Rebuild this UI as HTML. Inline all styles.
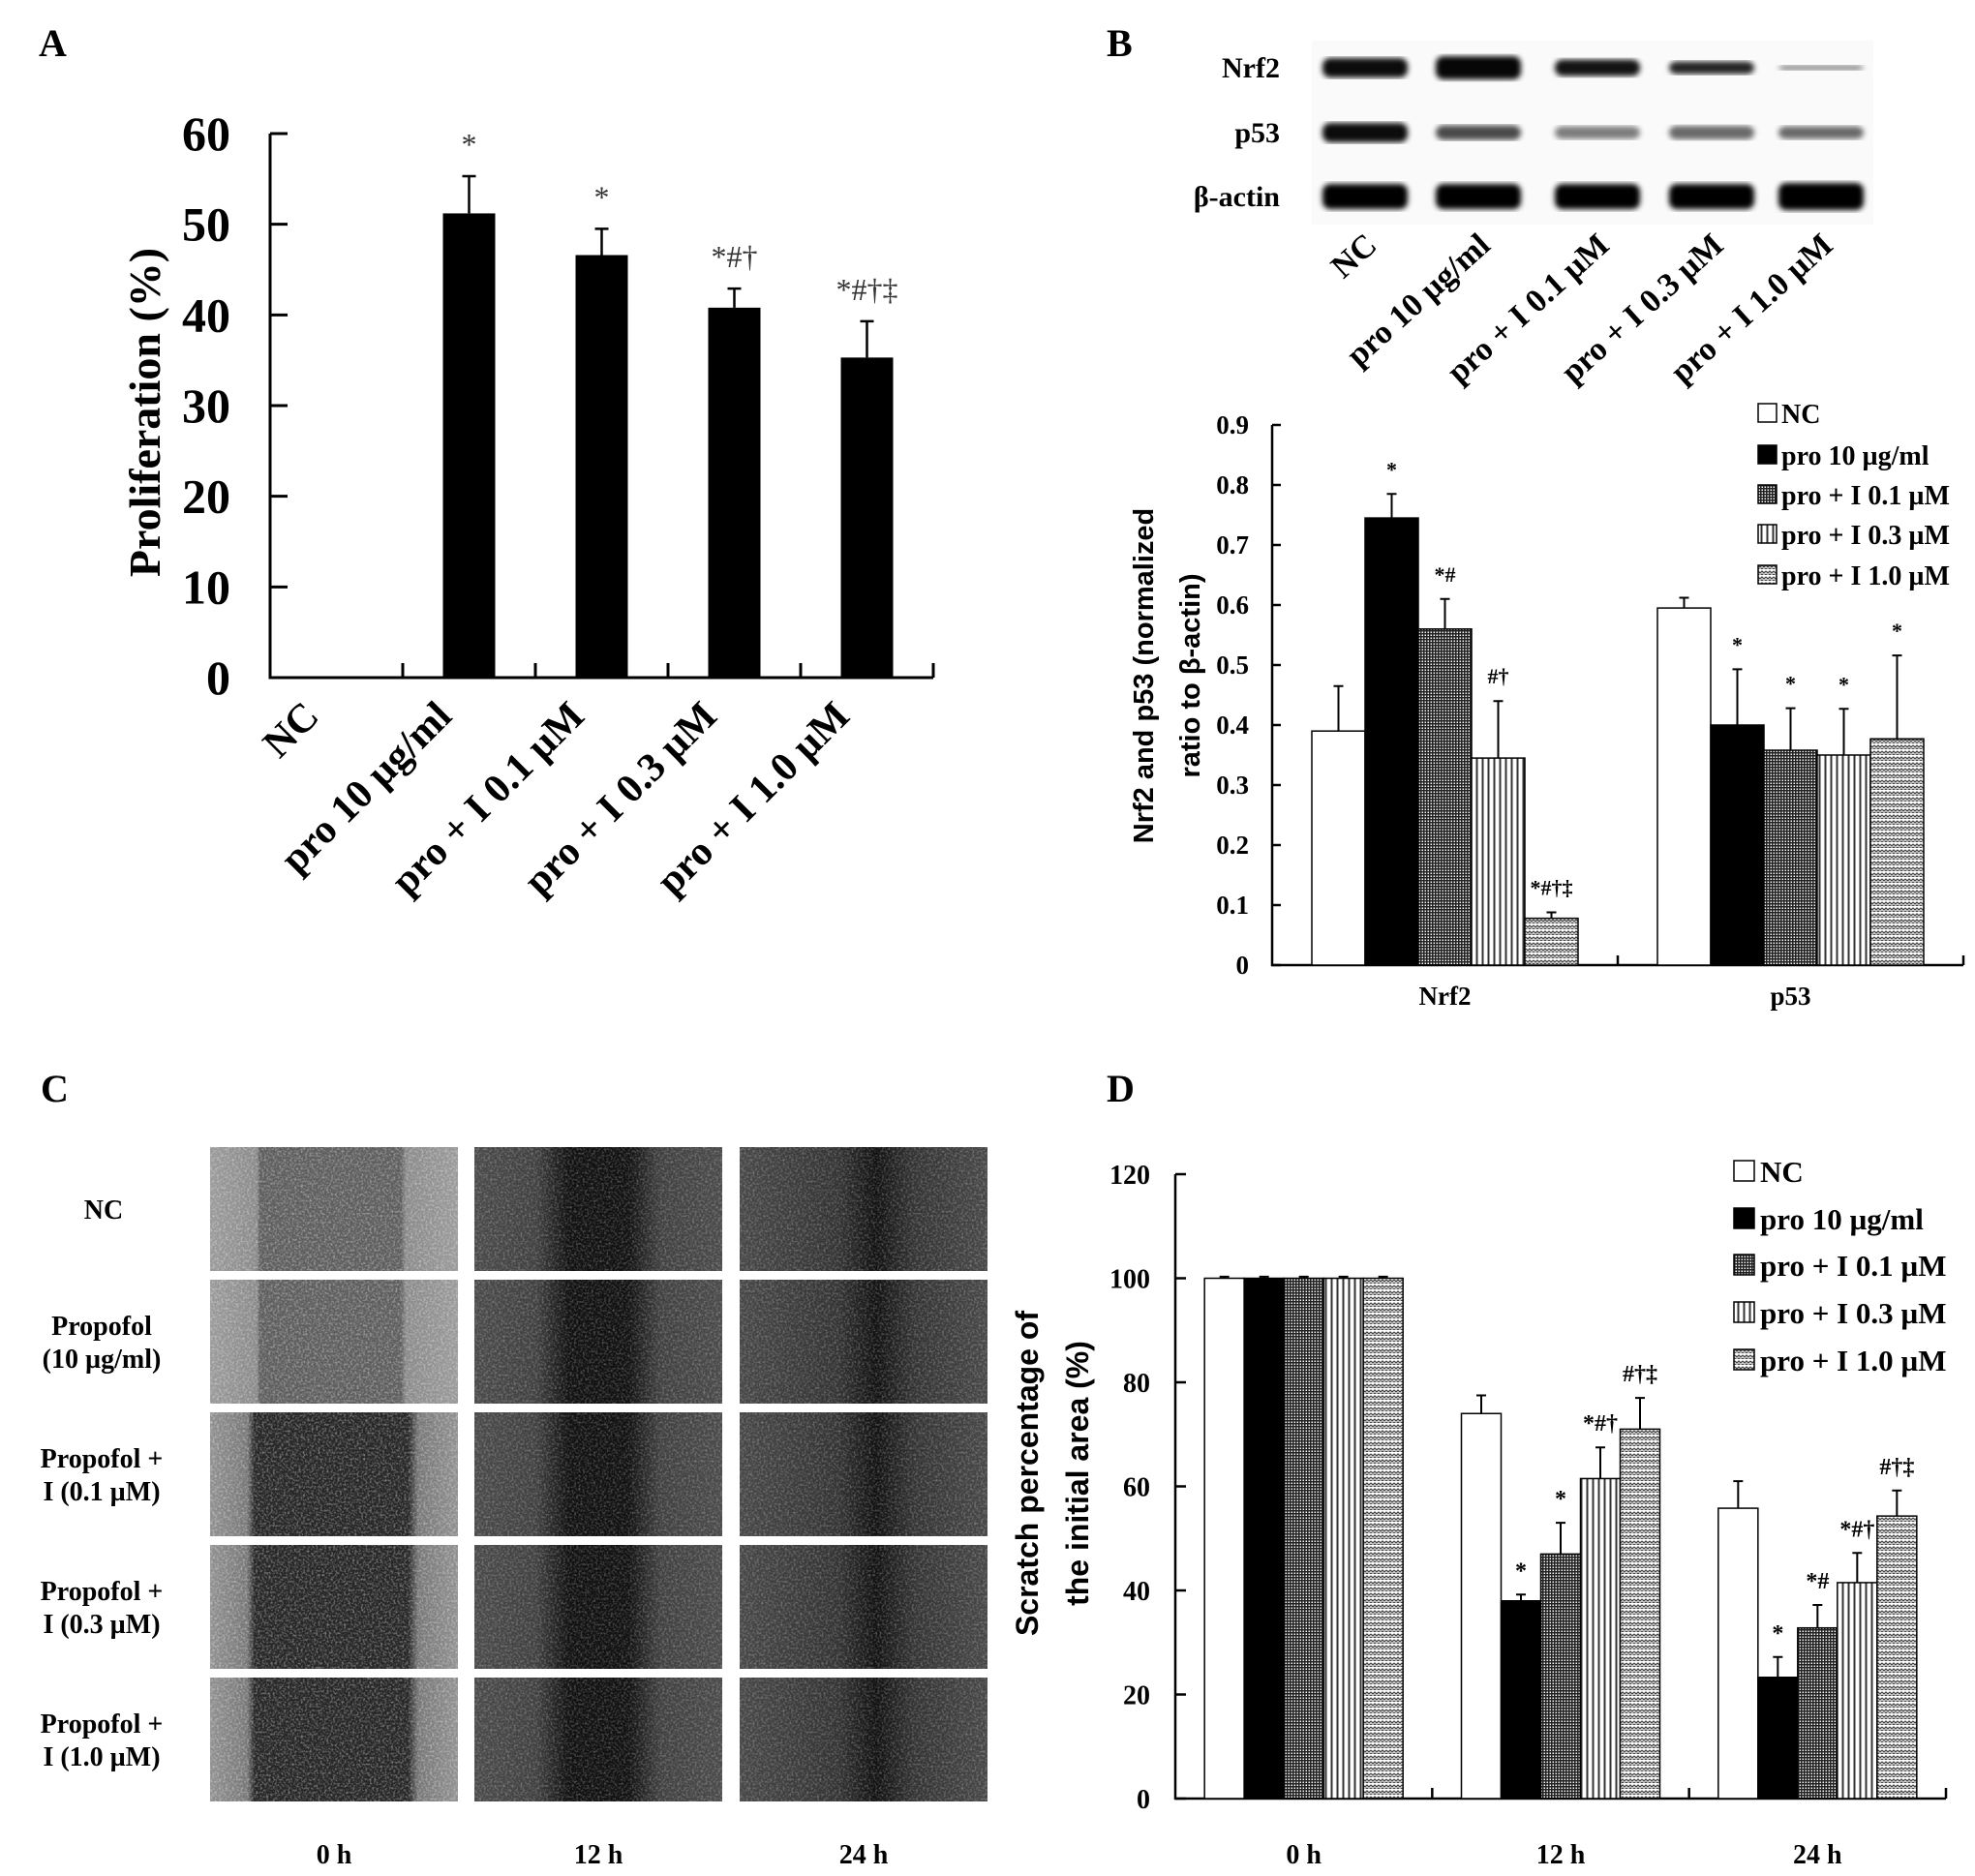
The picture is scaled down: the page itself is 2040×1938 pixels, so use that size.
<!DOCTYPE html>
<html><head><meta charset="utf-8"><style>
html,body{margin:0;padding:0;background:#fff;}
svg{display:block;}
.serif{font-family:"Liberation Serif",serif;font-weight:bold;}
.sans{font-family:"Liberation Sans",sans-serif;font-weight:bold;}
</style></head><body>
<svg id="fig" xmlns="http://www.w3.org/2000/svg" width="2040" height="1938" viewBox="0 0 2040 1938">
<defs>
<pattern id="grid" width="6" height="6" patternUnits="userSpaceOnUse"><rect width="6" height="6" fill="#fff"/><path d="M0 0.75H6M0 3.75H6M0.75 0V6M3.75 0V6" stroke="#222" stroke-width="1.6"/></pattern>
<pattern id="vlines" width="6" height="6" patternUnits="userSpaceOnUse"><rect width="6" height="6" fill="#fff"/><path d="M1.5 0V6" stroke="#333" stroke-width="2"/></pattern>
<pattern id="zigzag" width="8" height="6" patternUnits="userSpaceOnUse"><rect width="8" height="6" fill="#fff"/><path d="M0 2L2 4L4 2L6 4L8 2M0 5L2 7L4 5L6 7L8 5" stroke="#444" stroke-width="1.3" fill="none"/></pattern>
<filter id="noise" x="0" y="0" width="100%" height="100%"><feTurbulence type="fractalNoise" baseFrequency="0.45" numOctaves="2" seed="3"/><feColorMatrix type="matrix" values="0 0 0 0 1  0 0 0 0 1  0 0 0 0 1  0 0 0 2 -0.85"/></filter>
<filter id="blur"><feGaussianBlur stdDeviation="3"/></filter>
<linearGradient id="g0nc" x1="0" x2="1"><stop offset="0" stop-color="#9a9a9a"/><stop offset="0.19" stop-color="#8a8a8a"/><stop offset="0.2" stop-color="#5e5e5e"/><stop offset="0.77" stop-color="#5e5e5e"/><stop offset="0.79" stop-color="#8a8a8a"/><stop offset="1" stop-color="#9a9a9a"/></linearGradient>
<linearGradient id="g0dark" x1="0" x2="1"><stop offset="0" stop-color="#909090"/><stop offset="0.15" stop-color="#777"/><stop offset="0.18" stop-color="#262626"/><stop offset="0.8" stop-color="#262626"/><stop offset="0.84" stop-color="#777"/><stop offset="1" stop-color="#909090"/></linearGradient>
<linearGradient id="g12" x1="0" x2="1"><stop offset="0" stop-color="#4a4a4a"/><stop offset="0.25" stop-color="#404040"/><stop offset="0.38" stop-color="#111"/><stop offset="0.62" stop-color="#111"/><stop offset="0.75" stop-color="#404040"/><stop offset="1" stop-color="#4a4a4a"/></linearGradient>
<linearGradient id="g24" x1="0" x2="1"><stop offset="0" stop-color="#474747"/><stop offset="0.4" stop-color="#333"/><stop offset="0.55" stop-color="#111"/><stop offset="0.7" stop-color="#333"/><stop offset="1" stop-color="#474747"/></linearGradient>
</defs>
</svg>
<script>
// ---------- Panel A data ----------
const aCategories = ['NC','pro 10 µg/ml','pro + I 0.1 µM','pro + I 0.3 µM','pro + I 1.0 µM'];
const aValues = [0, 51.2, 46.6, 40.8, 35.3];
const aErrors = [0, 4.1, 2.9, 2.1, 4.0];
const aMarks = ['', '*', '*', '*#†', '*#†‡'];
const aTicks = [0, 10, 20, 30, 40, 50, 60];
// ---------- Panel B data ----------
const bSeries = ['NC','pro 10 µg/ml','pro + I 0.1 µM','pro + I 0.3 µM','pro + I 1.0 µM'];
const bGroups = ['Nrf2','p53'];
const bNrf2 = [0.39, 0.745, 0.56, 0.345, 0.078];
const bNrf2Err = [0.075, 0.04, 0.05, 0.095, 0.01];
const bNrf2Marks = ['', '*', '*#', '#†', '*#†‡'];
const bP53 = [0.595, 0.40, 0.358, 0.35, 0.377];
const bP53Err = [0.017, 0.093, 0.07, 0.077, 0.139];
const bP53Marks = ['', '*', '*', '*', '*'];
const bTicks = [0, 0.1, 0.2, 0.3, 0.4, 0.5, 0.6, 0.7, 0.8, 0.9];
const bTickLabels = ['0','0.1','0.2','0.3','0.4','0.5','0.6','0.7','0.8','0.9'];
// ---------- Panel D data ----------
const dGroups = ['0 h','12 h','24 h'];
const dNC = [100, 74, 55.8];
const dPro = [100, 38, 23.3];
const dI01 = [100, 47, 32.8];
const dI03 = [100, 61.5, 41.5];
const dI10 = [100, 71, 54.3];
const dNCErr = [0.3, 3.5, 5.2];
const dProErr = [0.3, 1.2, 3.9];
const dI01Err = [0.3, 6, 4.4];
const dI03Err = [0.3, 6, 5.7];
const dI10Err = [0.3, 6, 4.9];
const dMarks0h = ['', '', '', '', ''];
const dMarks12h = ['', '*', '*', '*#†', '#†‡'];
const dMarks24h = ['', '*', '*#', '*#†', '#†‡'];
const dTicks = [0, 20, 40, 60, 80, 100, 120];

const NS = 'http://www.w3.org/2000/svg';
const svg = document.getElementById('fig');
const fills = ['#fff', '#000', 'url(#grid)', 'url(#vlines)', 'url(#zigzag)'];
function mk(tag, attrs, parent) {
  const e = document.createElementNS(NS, tag);
  for (const k in attrs) e.setAttribute(k, attrs[k]);
  (parent || svg).appendChild(e);
  return e;
}
function txt(s, attrs, parent) { const t = mk('text', attrs, parent); t.textContent = s; return t; }

// ================= PANEL A =================
const gA = mk('g', {});


const aX0 = 279, aStep = 137, aY0 = 700, aYTop = 138;
const yA = v => aY0 - v / 60 * (aY0 - aYTop);
const xA = i => aX0 + aStep * (i + 0.5);
let el = txt('A', {x: 40, y: 58, class: 'serif', 'font-size': 40}, gA);


el = mk('path', {d: `M${aX0} ${aYTop} V${aY0} H${aX0 + aStep * 5}`, stroke: '#000', 'stroke-width': 3, fill: 'none'}, gA);


aTicks.forEach(t => {
  const tk = mk('line', {x1: aX0, x2: aX0 + 18, y1: yA(t), y2: yA(t), stroke: '#000', 'stroke-width': 3}, gA);
  
  
  const lb = txt(String(t), {x: 238, y: yA(t) + 17, 'text-anchor': 'end', class: 'serif', 'font-size': 50}, gA);
  
  
});
for (let i = 1; i <= 5; i++) {
  const tk = mk('line', {x1: aX0 + aStep * i, x2: aX0 + aStep * i, y1: aY0, y2: aY0 - 15, stroke: '#000', 'stroke-width': 3}, gA);
  
  
}
el = txt('Proliferation (%)', {x: 0, y: 0, transform: `translate(165,426) rotate(-90)`, 'text-anchor': 'middle', class: 'serif', 'font-size': 46}, gA);


aCategories.forEach((c, i) => {
  const cx = xA(i);
  if (aValues[i] > 0) {
    const b = mk('rect', {x: cx - 27, y: yA(aValues[i]), width: 54, height: aY0 - yA(aValues[i]), fill: '#000'}, gA);
    
    
    const top = yA(aValues[i] + aErrors[i]);
    const eb = mk('path', {d: `M${cx} ${yA(aValues[i])} V${top} M${cx - 7} ${top} H${cx + 7}`, stroke: '#000', 'stroke-width': 2.5, fill: 'none'}, gA);
    
    
    const m = txt(aMarks[i], {x: cx, y: top - 22, 'text-anchor': 'middle', 'font-family': 'Liberation Serif, serif', 'font-size': 32, fill: '#333'}, gA);
    
    
  }
  const lb = txt(c, {x: 0, y: 0, transform: `translate(${cx - 16},${aY0 + 42}) rotate(-45)`, 'text-anchor': 'end', class: 'serif', 'font-size': 42}, gA);
  
  
});

// ================= PANEL B (blot) =================
const gBl = mk('g', {});


el = txt('B', {x: 1143, y: 58, class: 'serif', 'font-size': 40}, gBl);


el = mk('rect', {x: 1355, y: 42, width: 580, height: 190, fill: '#fafafa'}, gBl);


const laneX = [1410, 1527, 1650, 1768, 1881];
const blotRows = [
  {name: 'Nrf2', y: 70, h: [20, 24, 17, 13, 5], op: [0.95, 0.97, 0.92, 0.85, 0.5]},
  {name: 'p53', y: 137, h: [20, 15, 13, 14, 13], op: [0.95, 0.7, 0.5, 0.58, 0.58]},
  {name: 'β-actin', y: 203, h: [26, 26, 26, 26, 28], op: [1, 1, 1, 1, 1]}
];
blotRows.forEach(r => {
  const lb = txt(r.name, {x: 1322, y: r.y + 10, 'text-anchor': 'end', class: 'serif', 'font-size': 30}, gBl);
  
  
  laneX.forEach((x, i) => {
    const band = mk('rect', {x: x - 44, y: r.y - r.h[i] / 2, width: 88, height: r.h[i], rx: 8, fill: '#000', opacity: r.op[i], filter: 'url(#blur)'}, gBl);
    
    
  });
});
aCategories.forEach((c, i) => {
  const lb = txt(c, {x: 0, y: 0, transform: `translate(${laneX[i] + 14},${256}) rotate(-42)`, 'text-anchor': 'end', class: 'serif', 'font-size': 34}, gBl);
  
  
});

// ================= PANEL B chart =================
const gB = mk('g', {});


const bX0 = 1314, bX1 = 2028, bY0 = 997, bYTop = 439, bBarW = 55;
const yB = v => bY0 - v / 0.9 * (bY0 - bYTop);
const bCat = (bX1 - bX0) / 2;
el = mk('path', {d: `M${bX0} ${bYTop} V${bY0} H${bX1}`, stroke: '#000', 'stroke-width': 2.5, fill: 'none'}, gB);


bTicks.forEach((t, i) => {
  const tk = mk('line', {x1: bX0, x2: bX0 + 9, y1: yB(t), y2: yB(t), stroke: '#000', 'stroke-width': 2.5}, gB);
  
  
  const lb = txt(bTickLabels[i], {x: 1290, y: yB(t) + 9, 'text-anchor': 'end', class: 'serif', 'font-size': 27}, gB);
  
  
});
for (let i = 1; i <= 2; i++) {
  const tk = mk('line', {x1: bX0 + bCat * i, x2: bX0 + bCat * i, y1: bY0, y2: bY0 - 10, stroke: '#000', 'stroke-width': 2.5}, gB);
  
  
}
el = txt('Nrf2 and p53 (normalized', {x: 0, y: 0, transform: 'translate(1191,698) rotate(-90)', 'text-anchor': 'middle', class: 'sans', 'font-size': 29}, gB);


el = txt('ratio to β-actin)', {x: 0, y: 0, transform: 'translate(1239,698) rotate(-90)', 'text-anchor': 'middle', class: 'sans', 'font-size': 29}, gB);


const bVals = [bNrf2, bP53], bErrs = [bNrf2Err, bP53Err], bMarks = [bNrf2Marks, bP53Marks];
bGroups.forEach((g, gi) => {
  const gc = bX0 + bCat * (gi + 0.5);
  const lb = txt(g, {x: gc, y: 1038, 'text-anchor': 'middle', class: 'serif', 'font-size': 27}, gB);
  
  
  bSeries.forEach((s, si) => {
    const x = gc + (si - 2.5) * bBarW;
    const v = bVals[gi][si];
    const b = mk('rect', {x: x, y: yB(v), width: bBarW, height: bY0 - yB(v), fill: fills[si], stroke: '#000', 'stroke-width': 1.5}, gB);
    
    
    const cx = x + bBarW / 2, top = yB(v + bErrs[gi][si]);
    const eb = mk('path', {d: `M${cx} ${yB(v)} V${top} M${cx - 5} ${top} H${cx + 5}`, stroke: '#000', 'stroke-width': 2, fill: 'none'}, gB);
    
    
    const m = txt(bMarks[gi][si], {x: cx, y: top - 18, 'text-anchor': 'middle', class: 'serif', 'font-size': 22}, gB);
    
    
  });
});
const bLegY = [427, 470, 511, 552, 594];
bSeries.forEach((s, si) => {
  const sw = mk('rect', {x: 1816, y: bLegY[si] - 10, width: 19, height: 19, fill: fills[si], stroke: '#000', 'stroke-width': 1.5}, gB);
  
  
  const lt = txt(s, {x: 1840, y: bLegY[si] + 10, class: 'serif', 'font-size': 28}, gB);
  
  
});

// ================= PANEL C =================
const gC = mk('g', {});


el = txt('C', {x: 42, y: 1138, class: 'serif', 'font-size': 40}, gC);


const colX = [217, 490, 764], colW = 256;
const rowY = [1185, 1322, 1459, 1596, 1733], rowH = 128;
const rowLabels = [['NC'], ['Propofol', '(10 µg/ml)'], ['Propofol +', 'I (0.1 µM)'], ['Propofol +', 'I (0.3 µM)'], ['Propofol +', 'I (1.0 µM)']];
const colLabels = ['0 h', '12 h', '24 h'];
rowY.forEach((y, r) => {
  const lines = rowLabels[r];
  lines.forEach((l, li) => {
    const t = txt(l, {x: r === 0 ? 107 : 105, y: y + rowH / 2 + 10 + (li - (lines.length - 1) / 2) * 34, 'text-anchor': 'middle', class: 'serif', 'font-size': 28}, gC);
    
    
  });
  colX.forEach((x, c) => {
    const g = c === 0 ? (r < 2 ? 'url(#g0nc)' : 'url(#g0dark)') : (c === 1 ? 'url(#g12)' : 'url(#g24)');
    const im = mk('rect', {x: x, y: y, width: colW, height: rowH, fill: g}, gC);
    
    
    const nz = mk('rect', {x: x, y: y, width: colW, height: rowH, filter: 'url(#noise)', opacity: c === 0 ? 0.5 : 0.35}, gC);
    
    
  });
});
colLabels.forEach((l, c) => {
  const t = txt(l, {x: colX[c] + colW / 2, y: 1925, 'text-anchor': 'middle', class: 'serif', 'font-size': 28}, gC);
  
  
});

// ================= PANEL D =================
const gD = mk('g', {});


el = txt('D', {x: 1143, y: 1138, class: 'serif', 'font-size': 40}, gD);


const dX0 = 1214, dX1 = 2010, dY0 = 1858, dYTop = 1213, dBarW = 41;
const yD = v => dY0 - v / 120 * (dY0 - dYTop);
const dCat = (dX1 - dX0) / 3;
el = mk('path', {d: `M${dX0} ${dYTop} V${dY0} H${dX1}`, stroke: '#000', 'stroke-width': 2.5, fill: 'none'}, gD);


dTicks.forEach(t => {
  const tk = mk('line', {x1: dX0, x2: dX0 + 11, y1: yD(t), y2: yD(t), stroke: '#000', 'stroke-width': 2.5}, gD);
  
  
  const lb = txt(String(t), {x: 1188, y: yD(t) + 10, 'text-anchor': 'end', class: 'serif', 'font-size': 28}, gD);
  
  
});
for (let i = 1; i <= 3; i++) {
  const tk = mk('line', {x1: dX0 + dCat * i, x2: dX0 + dCat * i, y1: dY0, y2: dY0 - 11, stroke: '#000', 'stroke-width': 2.5}, gD);
  
  
}
el = txt('Scratch percentage of', {x: 0, y: 0, transform: 'translate(1072,1522) rotate(-90)', 'text-anchor': 'middle', class: 'sans', 'font-size': 32}, gD);


el = txt('the initial area (%)', {x: 0, y: 0, transform: 'translate(1124,1522) rotate(-90)', 'text-anchor': 'middle', class: 'sans', 'font-size': 32}, gD);


const dSeriesVals = [dNC, dPro, dI01, dI03, dI10];
const dSeriesErr = [dNCErr, dProErr, dI01Err, dI03Err, dI10Err];
const dMarks = [dMarks0h, dMarks12h, dMarks24h];
dGroups.forEach((g, gi) => {
  const gc = dX0 + dCat * (gi + 0.5);
  const lb = txt(g, {x: gc, y: 1925, 'text-anchor': 'middle', class: 'serif', 'font-size': 28}, gD);
  
  
  bSeries.forEach((s, si) => {
    const x = gc + (si - 2.5) * dBarW;
    const v = dSeriesVals[si][gi];
    const b = mk('rect', {x: x, y: yD(v), width: dBarW, height: dY0 - yD(v), fill: fills[si], stroke: '#000', 'stroke-width': 1.5}, gD);
    
    
    const cx = x + dBarW / 2, top = yD(v + dSeriesErr[si][gi]);
    const eb = mk('path', {d: `M${cx} ${yD(v)} V${top} M${cx - 5} ${top} H${cx + 5}`, stroke: '#000', 'stroke-width': 2, fill: 'none'}, gD);
    
    
    const m = txt(dMarks[gi][si], {x: cx, y: top - 17, 'text-anchor': 'middle', class: 'serif', 'font-size': 24}, gD);
    
    
  });
});
const dLegY = [1210, 1259, 1307, 1356, 1405];
bSeries.forEach((s, si) => {
  const sw = mk('rect', {x: 1791, y: dLegY[si] - 11, width: 21, height: 21, fill: fills[si], stroke: '#000', 'stroke-width': 1.5}, gD);
  
  
  const lt = txt(s, {x: 1818, y: dLegY[si] + 11, class: 'serif', 'font-size': 31}, gD);
  
  
});
</script>
</body></html>
